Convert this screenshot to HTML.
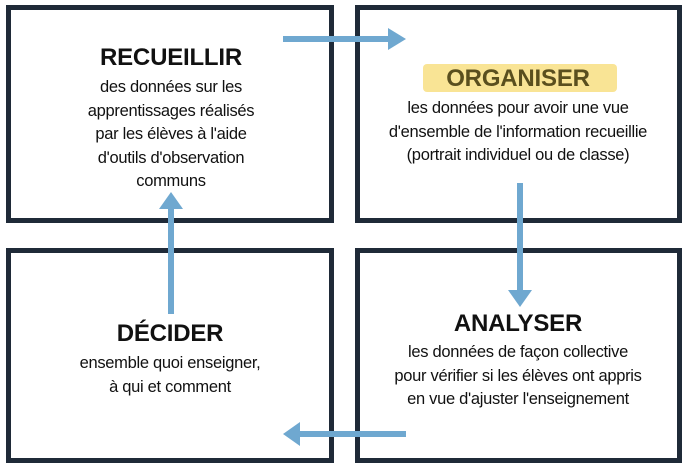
<!DOCTYPE html>
<html><head><meta charset="utf-8"><style>
body{margin:0;width:687px;height:472px;background:#fff;position:relative;overflow:hidden;font-family:"Liberation Sans",sans-serif;color:#111}
.box{position:absolute;border:5px solid #1f2a38;box-sizing:border-box}
.t{position:absolute;text-align:center;white-space:nowrap;transform:translateX(-50%)}
.h{font-weight:bold;font-size:24px;letter-spacing:-0.2px}
.b{font-size:16.5px;line-height:23.5px;letter-spacing:-0.3px}
</style></head><body>
<div class="box" style="left:6px;top:5px;width:328px;height:218px"></div>
<div class="box" style="left:355px;top:5px;width:327px;height:218px"></div>
<div class="box" style="left:6px;top:248px;width:328px;height:215px"></div>
<div class="box" style="left:355px;top:248px;width:327px;height:215px"></div>
<div style="position:absolute;left:423px;top:64px;width:194px;height:28px;background:#f8dd7a;opacity:.8;border-radius:4px"></div>
<div class="t h" style="left:171px;top:44px">RECUEILLIR</div>
<div class="t b" style="left:171px;top:76px">des données sur les<br>apprentissages réalisés<br>par les élèves à l'aide<br>d'outils d'observation<br>communs</div>
<div class="t h" style="left:518px;top:65px;color:#5a4f1e">ORGANISER</div>
<div class="t b" style="left:518px;top:97px">les données pour avoir une vue<br>d'ensemble de l'information recueillie<br>(portrait individuel ou de classe)</div>
<div class="t h" style="left:170px;top:320px">DÉCIDER</div>
<div class="t b" style="left:170px;top:352px">ensemble quoi enseigner,<br>à qui et comment</div>
<div class="t h" style="left:518px;top:310px">ANALYSER</div>
<div class="t b" style="left:518px;top:341px">les données de façon collective<br>pour vérifier si les élèves ont appris<br>en vue d'ajuster l'enseignement</div>
<svg width="687" height="472" style="position:absolute;left:0;top:0">
<g fill="#6fa8d0" stroke="none">
<rect x="283" y="36" width="108" height="6"/><polygon points="388,28 406,39 388,50"/>
<rect x="517" y="183" width="6" height="109"/><polygon points="508,290 532,290 520,307"/>
<rect x="168" y="207" width="6" height="107"/><polygon points="159,209 183,209 171,192"/>
<rect x="298" y="431" width="108" height="6"/><polygon points="300,422 300,446 283,434"/>
</g></svg>
</body></html>
